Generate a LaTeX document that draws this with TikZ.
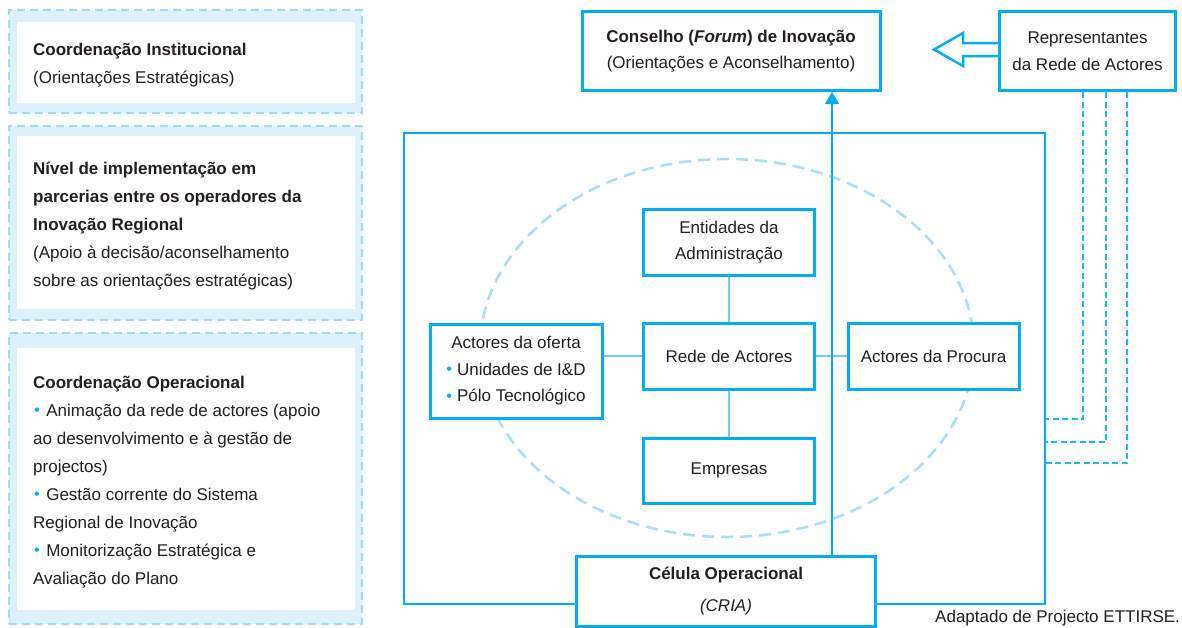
\documentclass[tikz,border=0pt]{standalone}
\usepackage{fontspec}
\setmainfont{Liberation Sans}
\usetikzlibrary{arrows.meta,calc}
\definecolor{cbox}{HTML}{00AEEF}
\definecolor{clink}{HTML}{6ACDF5}
\definecolor{cell}{HTML}{A8DEF7}
\definecolor{cband}{HTML}{DEF1FA}
\definecolor{cbandline}{HTML}{A0DAF5}
\definecolor{ctext}{HTML}{231F20}
\definecolor{cdash}{HTML}{22B7EE}
\newcommand{\cbul}{{\color{cbox}\fontsize{16}{16}\selectfont\raisebox{0.5pt}{\textbullet}}}
\begin{document}
\begin{tikzpicture}[x=1pt,y=-1pt,
  every node/.style={text=ctext, font=\fontsize{17}{26.5}\selectfont},
  box/.style={draw=cbox, line width=3pt, fill=white, inner sep=0pt, align=center},
  band/.style={draw=cbandline, line width=2pt, dash pattern=on 8pt off 5pt, fill=cband, inner sep=0pt},
  innerbox/.style={fill=white, draw=none, inner sep=0pt},
  ptext/.style={anchor=base west, inner sep=0pt},
  ellline/.style={draw=cell, line width=2.5pt, dash pattern=on 12pt off 7pt},
  dashlink/.style={draw=cdash, line width=2pt, dash pattern=on 6pt off 3.5pt},
  link/.style={draw=clink, line width=2pt},
  frame/.style={draw=cbox, line width=2pt, inner sep=0pt},
  arrowline/.style={draw=cbox, line width=2pt, -{Triangle[length=12pt,width=14pt]}}
]
\useasboundingbox (0,0) rectangle (1182,627);

% ---- left panels ----
\node[band, minimum width=353pt, minimum height=103pt] (b1) at (185.5,61.5) {};
\node[innerbox, minimum width=338pt, minimum height=81pt] (i1) at (186,62.5) {};
\node[band, minimum width=353pt, minimum height=194pt] (b2) at (185.5,223) {};
\node[innerbox, minimum width=338pt, minimum height=173pt] (i2) at (186,222.5) {};
\node[band, minimum width=353pt, minimum height=291pt] (b3) at (185.5,478.5) {};
\node[innerbox, minimum width=338pt, minimum height=262pt] (i3) at (186,479) {};

\node[ptext] (t1a) at (33,55) {\textbf{Coordenação Institucional}};
\node[ptext] (t1b) at (33,83) {(Orientações Estratégicas)};

\node[ptext] (t2a) at (33,174) {\textbf{Nível de implementação em}};
\node[ptext] (t2b) at (33,202) {\textbf{parcerias entre os operadores da}};
\node[ptext] (t2c) at (33,230) {\textbf{Inovação Regional}};
\node[ptext] (t2d) at (33,258) {(Apoio à decisão/aconselhamento};
\node[ptext] (t2e) at (33,286) {sobre as orientações estratégicas)};

\node[ptext] (t3a) at (33,388) {\textbf{Coordenação Operacional}};
\node[ptext] (t3b) at (33,416) {\hspace{1pt}\cbul\hspace{6.5pt}Animação da rede de actores (apoio};
\node[ptext] (t3c) at (33,444) {ao desenvolvimento e à gestão de};
\node[ptext] (t3d) at (33,472) {projectos)};
\node[ptext] (t3e) at (33,500) {\hspace{1pt}\cbul\hspace{6.5pt}Gestão corrente do Sistema};
\node[ptext] (t3f) at (33,528) {Regional de Inovação};
\node[ptext] (t3g) at (33,556) {\hspace{1pt}\cbul\hspace{6.5pt}Monitorização Estratégica e};
\node[ptext] (t3h) at (33,584) {Avaliação do Plano};

% ---- right part ----
\node[frame, minimum width=641pt, minimum height=471pt] (frame) at (724.5,368.5) {};
\draw[ellline] (727,348) ellipse [x radius=247pt, y radius=189pt];

\node[box, minimum width=298pt, minimum height=79pt] (conselho) at (731,51)
  {\textbf{Conselho (\textit{Forum}) de Inovação}\\(Orientações e Aconselhamento)};
\node[box, minimum width=176pt, minimum height=79pt] (rep) at (1087.5,51)
  {Representantes\\da Rede de Actores};

\node[box, minimum width=171pt, minimum height=66pt] (ent) at (729,242)
  {Entidades da\\Administração};
\node[box, minimum width=171pt, minimum height=66pt] (rede) at (729,356)
  {Rede de Actores};
\node[box, minimum width=171pt, minimum height=65pt] (emp) at (729,470.5)
  {Empresas};
\node[box, minimum width=171pt, minimum height=66pt] (proc) at (933.5,356)
  {Actores da Procura};
\node[box, minimum width=172pt, minimum height=94pt] (oferta) at (516,371)
  {Actores da oferta\\\cbul\hspace{5pt}Unidades de I\&D\\\cbul\hspace{5pt}Pólo Tecnológico};
\node[box, minimum width=299pt, minimum height=70pt] (celula) at (726,591)
  {\textbf{Célula Operacional}\\[5pt]\textit{(CRIA)}};

% connectors
\draw[link] (ent.south) -- (rede.north);
\draw[link] (rede.south) -- (emp.north);
\draw[link] (rede.west) -- (rede.west -| oferta.east);
\draw[link] (rede.east) -- (proc.west);

\coordinate (ax) at (832,0);
\draw[arrowline] (celula.north -| ax) -- (conselho.south -| ax);

% hollow arrow
\draw[cbox, line width=2.5pt, fill=white, line join=miter]
  (rep.west |- 0,43) -- (963,43) -- (963,33) -- (934,49.5) -- (963,66) -- (963,56) -- (rep.west |- 0,56);

% dashed links
\coordinate (d1) at (1083,419);
\coordinate (d2) at (1106,442);
\coordinate (d3) at (1127,463);
\draw[dashlink] (rep.south -| d1) |- (frame.east |- d1);
\draw[dashlink] (rep.south -| d2) |- (frame.east |- d2);
\draw[dashlink] (rep.south -| d3) |- (frame.east |- d3);

\node[ptext] (cap) at (935,622.5) {Adaptado de Projecto ETTIRSE.};
\end{tikzpicture}
\end{document}
